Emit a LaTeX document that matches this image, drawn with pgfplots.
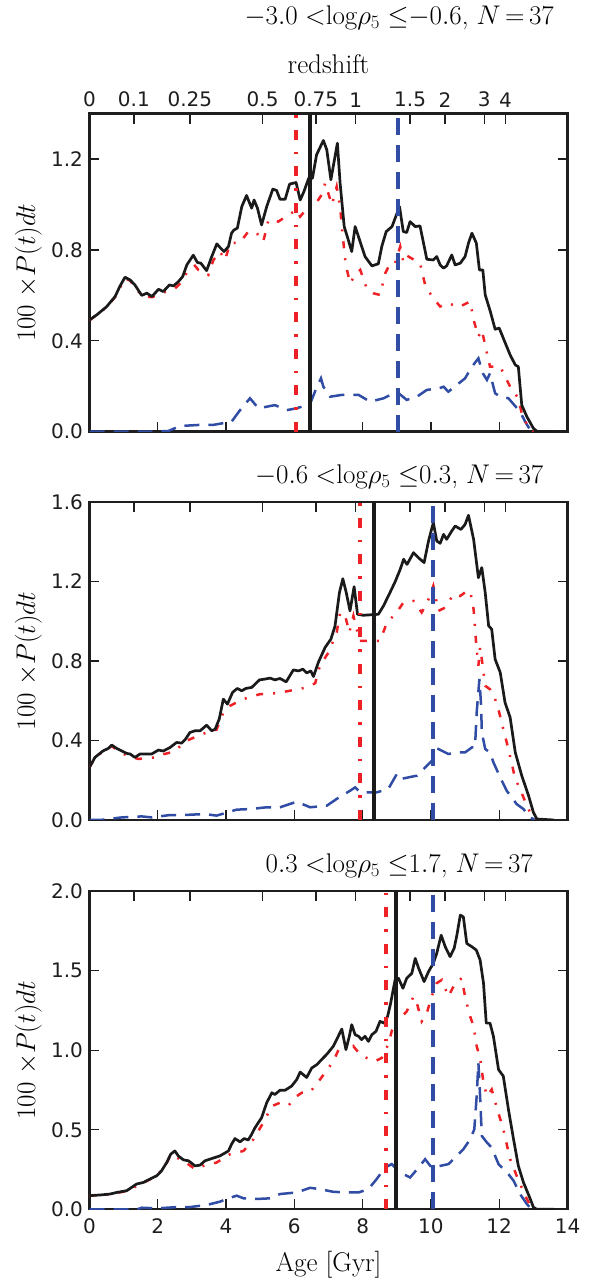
\RequirePackage{fix-cm}
\documentclass[border=0pt]{standalone}
\usepackage{fontspec}
\usepackage{pgfplots}
\pgfplotsset{compat=1.18}
\newfontfamily\tickfont{DejaVu Sans}
\newcommand\bigfont{\fontsize{27}{31}\selectfont}
\definecolor{cred}{RGB}{238,34,38}
\definecolor{cblue}{RGB}{48,76,164}
\definecolor{cblack}{RGB}{26,26,26}
\definecolor{cframe}{RGB}{30,30,30}
\pgfplotsset{
  panel/.style={
    scale only axis, width=478pt, height=318pt,
    xmin=0, xmax=14, ymin=0, anchor=south west,
    axis line style={line width=2.4pt, cframe},
    tick align=inside, major tick length=10pt,
    tick style={line width=1.3pt, cframe},
    xtick={0,2,...,14}, xtick pos=bottom, ytick pos=both,
    ticklabel style={font=\tickfont\fontsize{20}{20}\selectfont, text=cframe},
    yticklabel style={xshift=-3pt},
    xticklabel style={yshift=-6pt},
    /pgf/number format/assume math mode=true,
    label style={font=\bigfont},
    title style={font=\bigfont, anchor=center, inner sep=0pt},
    ylabel={$100\;{\times}P(t)dt$},
    ylabel style={at={(axis description cs:-0.128,0.5)}, anchor=center},
  },
  ztop/.style={
    scale only axis, width=478pt, height=318pt,
    xmin=0, xmax=14, ymin=0, ymax=1, anchor=south west,
    axis x line*=top, hide y axis,
    axis line style={line width=2.4pt, cframe},
    tick align=inside, major tick length=10pt,
    tick style={line width=1.3pt, cframe},
    xtick={0,1.30,2.94,5.07,6.63,7.80,9.39,10.41,11.56,12.18},
    ticklabel style={font=\tickfont\fontsize{20}{20}\selectfont, text=cframe},
    xticklabel style={yshift=3pt},
    label style={font=\bigfont},
  },
  blackcurve/.style={cblack, line width=2.7pt, line join=round},
  redcurve/.style={cred, line width=2.5pt, dash pattern=on 7pt off 10pt on 2pt off 10pt},
  bluecurve/.style={cblue, line width=2.5pt, dash pattern=on 15pt off 9pt},
  vred/.style={cred, line width=3.8pt, dash pattern=on 10pt off 12pt on 2.5pt off 12pt},
  vblack/.style={cblack, line width=4pt},
  vblue/.style={cblue, line width=4pt, dash pattern=on 17pt off 10pt},
}
\begin{document}
\begin{tikzpicture}[x=1pt,y=1pt]
\path[use as bounding box] (0,0) rectangle (595,1281);
% ---------------- panel 1
\begin{axis}[panel, at={(89.5pt,849.3pt)}, ymax=1.4,
  ytick={0,0.4,0.8,1.2}, yticklabels={0.0,0.4,0.8,1.2}, xticklabels={},
  title={$-3.0\;{<}\mathrm{log}\rho_5\;{\leq}{-0.6}$, $N\,{=}\,37$},
  title style={at={(axis description cs:0.648,1.283)}}]
\addplot[bluecurve] coordinates {(0,0) (1.8,0) (2.31,0.003) (2.65,0.025) (3.24,0.03) (3.63,0.03) (4.16,0.044) (4.41,0.095) (4.7,0.147) (4.95,0.103) (5.43,0.117) (5.78,0.095) (6.07,0.103) (6.46,0.122) (6.66,0.198) (6.78,0.235) (6.85,0.198) (7.05,0.154) (7.39,0.162) (7.88,0.162) (8.22,0.132) (8.61,0.147) (9.0,0.176) (9.29,0.14) (9.59,0.154) (9.88,0.184) (10.22,0.19) (10.37,0.198) (10.51,0.176) (10.76,0.206) (11.0,0.235) (11.2,0.286) (11.39,0.323) (11.52,0.257) (11.64,0.228) (11.73,0.257) (11.88,0.169) (12.03,0.154) (12.27,0.147) (12.61,0.088) (12.76,0.044) (12.91,0.007) (13.0,0)};
\addplot[redcurve] coordinates {(0,0.49) (0.5,0.548) (0.75,0.593) (1.04,0.675) (1.19,0.665) (1.53,0.598) (1.83,0.592) (2.16,0.612) (2.5,0.63) (2.66,0.653) (2.85,0.70) (3.09,0.73) (3.19,0.712) (3.48,0.69) (3.63,0.756) (3.82,0.793) (3.97,0.756) (4.12,0.83) (4.41,0.833) (4.65,0.881) (4.9,0.874) (5.09,0.837) (5.24,0.932) (5.53,0.925) (5.82,0.954) (6.07,0.976) (6.17,0.947) (6.46,0.999) (6.56,0.988) (6.8,1.043) (6.9,1.094) (7.1,0.999) (7.24,1.079) (7.34,0.991) (7.39,0.903) (7.44,0.83) (7.5,0.742) (7.63,0.653) (7.78,0.69) (7.93,0.712) (8.12,0.631) (8.32,0.609) (8.51,0.602) (8.66,0.697) (8.81,0.742) (8.95,0.742) (9.1,0.815) (9.2,0.742) (9.34,0.771) (9.68,0.742) (9.83,0.646) (10.03,0.595) (10.27,0.551) (10.51,0.566) (10.81,0.548) (11.15,0.573) (11.25,0.492) (11.39,0.418) (11.49,0.448) (11.62,0.36) (11.73,0.286) (12.03,0.286) (12.32,0.198) (12.56,0.147) (12.66,0.081) (12.86,0.015) (13.0,0)};
\addplot[blackcurve] coordinates {(0,0.492) (0.21,0.514) (0.5,0.55) (0.75,0.595) (0.89,0.64) (1.04,0.68) (1.19,0.668) (1.33,0.646) (1.53,0.60) (1.68,0.61) (1.83,0.595) (2.02,0.627) (2.16,0.617) (2.34,0.646) (2.46,0.642) (2.60,0.66) (2.73,0.683) (2.85,0.734) (3.04,0.777) (3.16,0.745) (3.26,0.742) (3.43,0.709) (3.58,0.771) (3.73,0.827) (3.84,0.808) (3.94,0.793) (4.07,0.815) (4.16,0.874) (4.23,0.888) (4.33,0.896) (4.46,0.991) (4.60,1.04) (4.75,0.984) (4.82,1.02) (4.92,0.984) (5.04,0.91) (5.19,0.991) (5.37,1.068) (5.48,1.062) (5.58,1.023) (5.73,1.023) (5.86,1.09) (6.05,1.097) (6.17,1.02) (6.28,1.057) (6.42,1.116) (6.53,1.116) (6.65,1.219) (6.85,1.282) (6.95,1.241) (7.07,1.109) (7.26,1.27) (7.34,1.094) (7.46,0.903) (7.58,0.844) (7.68,0.793) (7.78,0.903) (7.91,0.844) (8.07,0.771) (8.27,0.73) (8.46,0.739) (8.56,0.815) (8.69,0.881) (8.86,0.903) (9.08,0.991) (9.19,0.881) (9.29,0.877) (9.39,0.925) (9.54,0.903) (9.68,0.906) (9.88,0.759) (10.07,0.756) (10.17,0.771) (10.27,0.734) (10.37,0.72) (10.46,0.73) (10.61,0.778) (10.71,0.734) (10.86,0.742) (11.0,0.771) (11.1,0.83) (11.2,0.874) (11.33,0.83) (11.42,0.712) (11.52,0.712) (11.59,0.602) (11.74,0.529) (11.88,0.451) (12.0,0.456) (12.14,0.404) (12.32,0.338) (12.47,0.294) (12.56,0.286) (12.66,0.117) (12.81,0.066) (13.0,0.015) (13.12,0) (13.6,0)};
\addplot[vred] coordinates {(6.04,0) (6.04,1.4)};
\addplot[vblack] coordinates {(6.45,0) (6.45,1.4)};
\addplot[vblue] coordinates {(9.03,0) (9.03,1.4)};
\end{axis}
\begin{axis}[ztop, at={(89.5pt,849.3pt)},
  xticklabels={0,0.1,0.25,0.5,0.75,1,1.5,2,3,4},
  xlabel={redshift}, xlabel style={at={(axis description cs:0.5,1.157)}, anchor=center}]
\end{axis}
% ---------------- panel 2
\begin{axis}[panel, at={(89.5pt,461pt)}, ymax=1.6,
  ytick={0,0.4,0.8,1.2,1.6}, yticklabels={0.0,0.4,0.8,1.2,1.6}, xticklabels={},
  title={$-0.6\;{<}\mathrm{log}\rho_5\;{\leq}0.3$, $N\,{=}\,37$},
  title style={at={(axis description cs:0.648,1.061)}}]
\addplot[bluecurve] coordinates {(0,0) (0.31,0) (0.7,0.008) (0.94,0.013) (1.53,0.018) (1.82,0.013) (2.36,0.025) (2.75,0.025) (3.38,0.03) (3.72,0.022) (4.31,0.052) (4.7,0.055) (5.19,0.064) (5.58,0.064) (6.07,0.092) (6.46,0.064) (6.95,0.072) (7.24,0.106) (7.63,0.147) (7.78,0.164) (7.93,0.139) (8.41,0.139) (8.75,0.156) (9.0,0.231) (9.1,0.206) (9.59,0.223) (9.93,0.281) (10.12,0.315) (10.22,0.357) (10.51,0.332) (10.76,0.34) (11.0,0.34) (11.2,0.365) (11.29,0.365) (11.34,0.541) (11.42,0.709) (11.47,0.575) (11.49,0.441) (11.59,0.357) (11.73,0.34) (11.83,0.29) (12.03,0.214) (12.22,0.147) (12.51,0.08) (12.71,0.055) (12.91,0.013) (13.05,0)};
\addplot[redcurve] coordinates {(0,0.265) (0.16,0.313) (0.4,0.345) (0.65,0.372) (0.8,0.353) (0.99,0.332) (1.43,0.307) (1.92,0.315) (2.07,0.327) (2.46,0.343) (2.85,0.399) (3.29,0.432) (3.72,0.454) (3.92,0.541) (4.12,0.575) (4.5,0.608) (4.99,0.633) (5.48,0.638) (5.86,0.65) (6.36,0.667) (6.61,0.688) (6.75,0.776) (7.0,0.843) (7.24,0.943) (7.34,1.044) (7.49,1.027) (7.61,0.943) (7.73,1.027) (7.91,0.901) (8.17,0.901) (8.51,0.901) (8.71,0.993) (9.0,1.044) (9.19,1.094) (9.49,1.102) (9.73,1.044) (9.93,1.111) (10.07,1.178) (10.22,1.052) (10.42,1.069) (10.66,1.136) (10.86,1.127) (11.05,1.152) (11.15,1.152) (11.25,1.06) (11.33,0.876) (11.39,0.776) (11.44,0.868) (11.49,0.809) (11.59,0.675) (11.73,0.658) (11.88,0.608) (12.0,0.541) (12.12,0.457) (12.27,0.357) (12.47,0.206) (12.61,0.156) (12.81,0.072) (13.0,0.005) (13.05,0)};
\addplot[blackcurve] coordinates {(0,0.265) (0.16,0.315) (0.4,0.348) (0.55,0.36) (0.65,0.377) (0.8,0.36) (0.94,0.348) (1.09,0.335) (1.19,0.332) (1.33,0.315) (1.48,0.332) (1.67,0.332) (1.82,0.332) (2.02,0.352) (2.16,0.347) (2.36,0.365) (2.55,0.39) (2.7,0.387) (2.8,0.404) (2.94,0.44) (3.09,0.449) (3.24,0.449) (3.43,0.477) (3.58,0.449) (3.68,0.457) (3.8,0.508) (3.92,0.608) (4.04,0.583) (4.19,0.642) (4.33,0.662) (4.46,0.65) (4.58,0.662) (4.75,0.667) (4.98,0.705) (5.14,0.709) (5.29,0.714) (5.43,0.705) (5.58,0.712) (5.76,0.695) (5.97,0.755) (6.12,0.75) (6.25,0.759) (6.36,0.74) (6.48,0.75) (6.56,0.722) (6.7,0.792) (6.9,0.868) (7.07,0.91) (7.19,0.975) (7.32,1.144) (7.42,1.214) (7.52,1.144) (7.63,1.052) (7.75,1.174) (7.85,1.035) (8.02,1.03) (8.46,1.035) (8.61,1.077) (8.8,1.144) (8.95,1.198) (9.1,1.261) (9.2,1.312) (9.3,1.286) (9.49,1.345) (9.63,1.32) (9.8,1.295) (9.93,1.404) (10.07,1.496) (10.17,1.404) (10.27,1.392) (10.37,1.437) (10.46,1.412) (10.61,1.454) (10.71,1.479) (10.88,1.462) (11.0,1.487) (11.1,1.533) (11.25,1.412) (11.39,1.219) (11.49,1.27) (11.59,1.144) (11.69,0.977) (11.78,0.96) (11.88,0.809) (12.03,0.742) (12.17,0.591) (12.32,0.516) (12.47,0.34) (12.66,0.223) (12.86,0.122) (13.0,0.039) (13.1,0.005) (13.6,0)};
\addplot[vred] coordinates {(7.92,0) (7.92,1.6)};
\addplot[vblack] coordinates {(8.33,0) (8.33,1.6)};
\addplot[vblue] coordinates {(10.07,0) (10.07,1.6)};
\end{axis}
\begin{axis}[ztop, at={(89.5pt,461pt)}, xticklabels={}]
\end{axis}
% ---------------- panel 3
\begin{axis}[panel, at={(89.5pt,71.7pt)}, ymax=2.0,
  ytick={0,0.5,1.0,1.5,2.0}, yticklabels={0.0,0.5,1.0,1.5,2.0},
  xticklabels={0,2,4,6,8,10,12,14},
  xlabel={Age [Gyr]}, xlabel style={at={(axis description cs:0.5,-0.175)}, anchor=center},
  title={$0.3\;{<}\mathrm{log}\rho_5\;{\leq}1.7$, $N\,{=}\,37$},
  title style={at={(axis description cs:0.648,1.062)}}]
\addplot[bluecurve] coordinates {(0,0) (1.4,0) (1.53,0.01) (1.97,0.006) (2.5,0.013) (2.9,0.013) (3.43,0.027) (3.82,0.048) (4.02,0.065) (4.31,0.086) (4.51,0.069) (4.9,0.065) (5.29,0.069) (5.58,0.096) (6.07,0.106) (6.46,0.135) (6.75,0.127) (7.14,0.11) (7.54,0.106) (7.88,0.106) (8.17,0.127) (8.41,0.19) (8.66,0.263) (8.85,0.284) (9.1,0.232) (9.39,0.2) (9.64,0.263) (9.83,0.315) (10.02,0.263) (10.27,0.273) (10.51,0.284) (10.76,0.336) (10.95,0.378) (11.15,0.44) (11.27,0.503) (11.34,0.712) (11.39,0.921) (11.44,0.712) (11.49,0.461) (11.64,0.42) (11.78,0.388) (11.98,0.284) (12.12,0.253) (12.27,0.221) (12.42,0.18) (12.61,0.096) (12.81,0.033) (12.95,0)};
\addplot[redcurve] coordinates {(0,0.086) (0.6,0.094) (1.09,0.115) (1.58,0.167) (1.97,0.209) (2.26,0.29) (2.38,0.343) (2.55,0.326) (2.75,0.305) (3.09,0.253) (3.33,0.273) (3.72,0.294) (4.12,0.347) (4.51,0.367) (4.8,0.44) (5.09,0.545) (5.34,0.649) (5.58,0.67) (5.83,0.653) (6.07,0.712) (6.22,0.733) (6.46,0.737) (6.75,0.816) (7.14,0.93) (7.34,1.025) (7.49,1.025) (7.63,0.994) (7.73,1.025) (7.93,0.973) (8.12,0.952) (8.36,0.931) (8.56,0.952) (8.64,0.994) (8.75,1.035) (8.85,1.119) (9.0,1.213) (9.15,1.213) (9.29,1.244) (9.49,1.338) (9.59,1.296) (9.73,1.182) (9.88,1.234) (10.02,1.338) (10.17,1.422) (10.32,1.443) (10.51,1.338) (10.71,1.422) (10.9,1.453) (11.0,1.338) (11.15,1.213) (11.25,1.15) (11.34,1.025) (11.44,0.952) (11.54,0.795) (11.64,0.712) (11.78,0.754) (11.93,0.639) (12.12,0.503) (12.32,0.315) (12.51,0.211) (12.76,0.086) (12.95,0.006) (13.0,0)};
\addplot[blackcurve] coordinates {(0,0.086) (0.31,0.09) (0.6,0.096) (0.8,0.106) (1.09,0.117) (1.38,0.159) (1.58,0.169) (1.77,0.19) (1.97,0.211) (2.11,0.242) (2.26,0.294) (2.38,0.347) (2.5,0.367) (2.6,0.336) (2.75,0.311) (2.9,0.305) (3.09,0.273) (3.24,0.278) (3.38,0.305) (3.58,0.319) (3.82,0.336) (4.07,0.367) (4.16,0.409) (4.26,0.445) (4.41,0.424) (4.53,0.445) (4.65,0.436) (4.75,0.472) (4.85,0.514) (5.04,0.576) (5.19,0.67) (5.34,0.733) (5.43,0.722) (5.58,0.749) (5.73,0.749) (5.92,0.775) (6.07,0.816) (6.17,0.863) (6.36,0.829) (6.51,0.889) (6.66,0.91) (6.8,0.942) (6.95,0.975) (7.14,1.025) (7.26,1.077) (7.39,1.134) (7.51,1.004) (7.61,1.088) (7.68,1.161) (7.78,1.098) (7.88,1.088) (7.97,1.067) (8.07,1.088) (8.17,1.056) (8.27,1.098) (8.39,1.119) (8.51,1.182) (8.63,1.171) (8.73,1.213) (8.82,1.296) (8.95,1.443) (9.05,1.453) (9.18,1.39) (9.29,1.453) (9.44,1.484) (9.54,1.578) (9.64,1.516) (9.8,1.432) (9.93,1.495) (10.07,1.547) (10.17,1.61) (10.3,1.724) (10.42,1.651) (10.56,1.589) (10.68,1.641) (10.76,1.724) (10.86,1.85) (10.95,1.839) (11.05,1.672) (11.2,1.651) (11.33,1.63) (11.44,1.568) (11.54,1.422) (11.62,1.171) (11.73,1.171) (11.83,1.088) (11.98,0.879) (12.12,0.837) (12.27,0.628) (12.42,0.44) (12.56,0.273) (12.71,0.169) (12.91,0.065) (13.0,0.013) (13.1,0) (13.6,0)};
\addplot[vred] coordinates {(8.68,0) (8.68,2.0)};
\addplot[vblack] coordinates {(8.97,0) (8.97,2.0)};
\addplot[vblue] coordinates {(10.07,0) (10.07,2.0)};
\end{axis}
\begin{axis}[ztop, at={(89.5pt,71.7pt)}, xticklabels={}]
\end{axis}
\end{tikzpicture}
\end{document}
